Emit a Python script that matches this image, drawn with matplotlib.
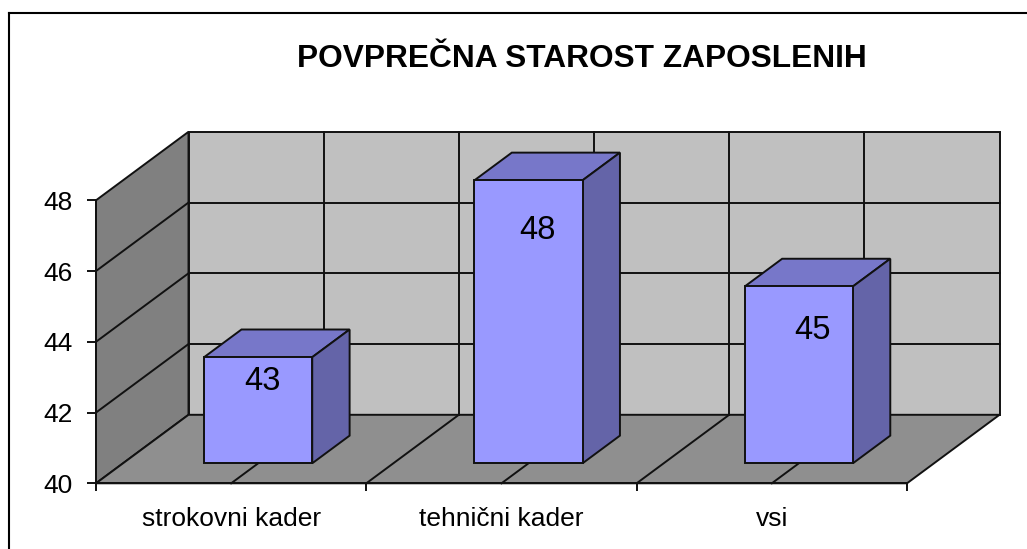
import matplotlib
matplotlib.use('Agg')
import matplotlib.pyplot as plt
from matplotlib.patches import Polygon
from matplotlib.lines import Line2D
from matplotlib.ticker import FixedLocator, FixedFormatter, NullFormatter
import matplotlib.transforms as mtransforms

# ---- data ----
categories = ['strokovni kader', 'tehnični kader', 'vsi']
values = [43, 48, 45]
y_ticks = [40, 42, 44, 46, 48]
title = 'POVPREČNA STAROST ZAPOSLENIH'

# ---- style ----
plt.rcParams['font.family'] = ['Liberation Sans', 'DejaVu Sans']
W, H, DPI = 1027, 549, 100
C_BACK = '#c0c0c0'
C_SIDE = '#808080'
C_FLOOR = '#8f8f8f'
C_FRONT = '#9999ff'
C_TOP = '#7777c9'
C_RIGHT = '#6464a8'
EDGE = '#111111'
LW = 1.4

fig = plt.figure(figsize=(W / DPI, H / DPI), dpi=DPI)
ax = fig.add_axes([0, 0, 1, 1])
ax.set_facecolor('none')

# pixel frame of the front plane
X0_PX, X3_PX = 96.0, 907.0
Y40_PX, Y48_PX = 483.3, 200.3
n = len(categories)
ymin, ymax = y_ticks[0], y_ticks[-1]
sx = (X3_PX - X0_PX) / n
sy = (Y40_PX - Y48_PX) / (ymax - ymin)
ax.set_xlim(-X0_PX / sx, (W - X0_PX) / sx)
ax.set_ylim(ymin - (H - Y40_PX) / sy, ymin + Y40_PX / sy)

DX = 92.5 / sx
DY = 68.5 / sy


def proj(x, y, d):
    return (x + DX * d, y + DY * d)


def poly(pts, fc, z):
    ax.add_patch(Polygon(pts, closed=True, facecolor=fc, edgecolor=EDGE,
                         lw=LW, zorder=z, joinstyle='miter'))


def line(p, q, z=1.5):
    ax.add_line(Line2D([p[0], q[0]], [p[1], q[1]], color=EDGE, lw=LW, zorder=z))


# walls and floor
poly([proj(0, ymin, 0), proj(0, ymin, 1), proj(0, ymax, 1), proj(0, ymax, 0)], C_SIDE, 1)
poly([proj(0, ymin, 1), proj(n, ymin, 1), proj(n, ymax, 1), proj(0, ymax, 1)], C_BACK, 1)
poly([proj(0, ymin, 0), proj(n, ymin, 0), proj(n, ymin, 1), proj(0, ymin, 1)], C_FLOOR, 1)

# gridlines
for yv in y_ticks[1:-1]:
    line(proj(0, yv, 0), proj(0, yv, 1))
    line(proj(0, yv, 1), proj(n, yv, 1))
for k in range(1, 2 * n):
    xv = k / 2
    line(proj(xv, ymin, 1), proj(xv, ymax, 1))
    line(proj(xv, ymin, 0), proj(xv, ymin, 1))

# bars
BW = 0.4
D0, D1 = 0.292, 0.696
label_offsets_px = [(4.6, -33.3), (8.6, -59.0), (13.5, -52.3)]
for i, v in enumerate(values):
    c = i + 0.5
    xl, xr = c - BW / 2, c + BW / 2
    poly([proj(xl, v, D0), proj(xr, v, D0), proj(xr, v, D1), proj(xl, v, D1)], C_TOP, 3)
    poly([proj(xr, ymin, D0), proj(xr, ymin, D1), proj(xr, v, D1), proj(xr, v, D0)], C_RIGHT, 3)
    poly([proj(xl, ymin, D0), proj(xr, ymin, D0), proj(xr, v, D0), proj(xl, v, D0)], C_FRONT, 3)
    ox, oy = label_offsets_px[i]
    tr = mtransforms.offset_copy(ax.transData, fig=fig, x=ox, y=oy, units='dots')
    fx, fy = proj(c, v, D0)
    ax.text(fx, fy, f'{v:g}', transform=tr, ha='center', va='baseline',
            fontsize=23.5, color='black', zorder=5)

# axes / spines
for s in ['top', 'right']:
    ax.spines[s].set_visible(False)
ax.spines['left'].set_position(('data', 0))
ax.spines['left'].set_bounds(ymin, ymax)
ax.spines['bottom'].set_position(('data', ymin))
ax.spines['bottom'].set_bounds(0, n)
for s in ['left', 'bottom']:
    ax.spines[s].set_linewidth(LW)
    ax.spines[s].set_color(EDGE)
    ax.spines[s].set_zorder(2)

ax.yaxis.set_major_locator(FixedLocator(y_ticks))
ax.yaxis.set_major_formatter(FixedFormatter([str(t) for t in y_ticks]))
ax.tick_params(axis='y', which='major', direction='out', length=6.5, width=LW,
               pad=10, labelsize=19, colors=EDGE, labelcolor='black')

ax.xaxis.set_major_locator(FixedLocator(list(range(n + 1))))
ax.xaxis.set_major_formatter(NullFormatter())
ax.xaxis.set_minor_locator(FixedLocator([i + 0.5 for i in range(n)]))
ax.xaxis.set_minor_formatter(FixedFormatter(categories))
ax.tick_params(axis='x', which='major', direction='out', length=6, width=LW, colors=EDGE)
ax.tick_params(axis='x', which='minor', length=0, pad=17, labelsize=19, labelcolor='black')

# title
fig.text(582 / W, 1 - 66.7 / H, title, ha='center', va='baseline',
         fontsize=22.8, fontweight='bold', color='black')

# chart border (top and left visible)
fig.add_artist(Line2D([9 / W, 1], [1 - 13 / H, 1 - 13 / H], transform=fig.transFigure,
                      color='black', lw=1.5))
fig.add_artist(Line2D([9 / W, 9 / W], [0, 1 - 13 / H], transform=fig.transFigure,
                      color='black', lw=1.5))

fig.savefig('out.png', dpi=DPI)
